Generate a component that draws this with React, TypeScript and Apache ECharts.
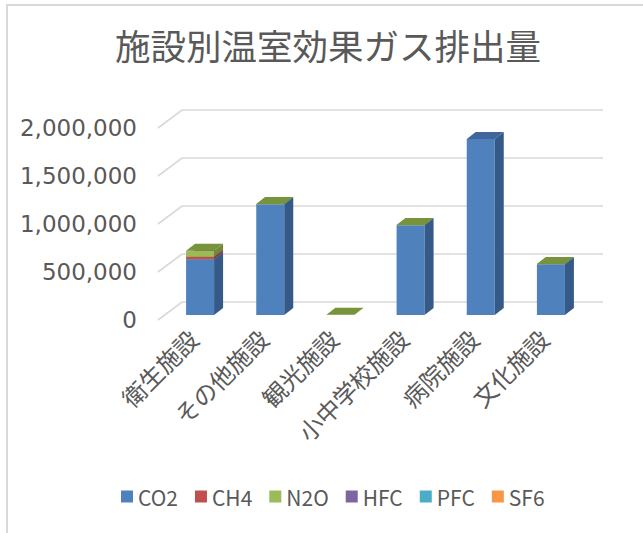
import { useEffect, useRef } from 'react';
import * as echarts from 'echarts';

const categories = ['衛生施設', 'その他施設', '観光施設', '小中学校施設', '病院施設', '文化施設'];
const seriesNames = ['CO2', 'CH4', 'N2O', 'HFC', 'PFC', 'SF6'];
const co2Values = [580000, 1153000, 0, 934000, 1833000, 529000];
const ch4Values = [26000, 0, 0, 0, 0, 0];
const n2oValues = [63000, 3000, 2000, 3000, 0, 3000];
const hfcValues = [0, 0, 0, 0, 0, 0];
const pfcValues = [0, 0, 0, 0, 0, 0];
const sf6Values = [0, 0, 0, 0, 0, 0];
const yTicks = [0, 500000, 1000000, 1500000, 2000000];

const FRONT = ['#4F81BD', '#C0504D', '#9BBB59', '#8064A2', '#4BACC6', '#F79646'];
const SIDE = ['#355A88', '#8E3A38', '#6F8A3E', '#5C4876', '#357E91', '#B56C32'];
const TOP = ['#40669A', '#A34442', '#77933C', '#6A5388', '#3E93A9', '#D17E3A'];

const FONT = '"Noto Sans CJK JP", "Noto Sans", sans-serif';
const NUM_FONT = '"DejaVu Sans", "Noto Sans", sans-serif';
const TEXT = '#595959';

export default function App() {
  const ref = useRef<HTMLDivElement>(null);
  useEffect(() => {
    const chart = echarts.init(ref.current!, null, { renderer: 'svg' });
    const valueLists = [co2Values, ch4Values, n2oValues, hfcValues, pfcValues, sf6Values];
    const bases = valueLists.map((_, s) =>
      categories.map((__, i) => valueLists.slice(0, s).reduce((a, l) => a + l[i], 0))
    );
    const DEPTH_X = 24, DEPTH_Y = -18;
    const FX = 7, FY = -5, SX = 9, SY = -7, BAR_W = 28;

    const gridSeries: any = {
      type: 'custom',
      name: 'grid',
      silent: true,
      data: yTicks.map((v) => [0, v]),
      renderItem: (params: any, api: any) => {
        const cs = params.coordSys;
        const y = api.coord([0, api.value(1)])[1];
        return {
          type: 'polyline',
          shape: {
            points: [
              [cs.x, y],
              [cs.x + DEPTH_X, y + DEPTH_Y],
              [cs.x + cs.width + DEPTH_X, y + DEPTH_Y],
            ],
          },
          style: { stroke: '#D9D9D9', lineWidth: 1.6, fill: null },
        };
      },
    };

    const barSeries: any[] = seriesNames.map((name, s) => ({
      type: 'custom',
      name,
      itemStyle: { color: FRONT[s] },
      data: categories
        .map((_, i) => [i, valueLists[s][i], bases[s][i]])
        .filter((d) => d[1] > 0),
      renderItem: (params: any, api: any) => {
        const i = api.value(0);
        const v = api.value(1);
        const b = api.value(2);
        const cx = api.coord([i, 0])[0];
        const yb = api.coord([i, b])[1] + FY;
        const yt = api.coord([i, b + v])[1] + FY;
        const x0 = cx - BAR_W / 2 + FX;
        const x1 = x0 + BAR_W;
        return {
          type: 'group',
          children: [
            {
              type: 'rect',
              shape: { x: x0, y: yt, width: BAR_W, height: Math.max(yb - yt, 0) },
              style: { fill: FRONT[s] },
            },
            {
              type: 'polygon',
              shape: { points: [[x1, yt], [x1 + SX, yt + SY], [x1 + SX, yb + SY], [x1, yb]] },
              style: { fill: SIDE[s] },
            },
            {
              type: 'polygon',
              shape: { points: [[x0, yt], [x1, yt], [x1 + SX, yt + SY], [x0 + SX, yt + SY]] },
              style: { fill: TOP[s] },
            },
          ],
        };
      },
    }));

    chart.setOption({
      animation: false,
      backgroundColor: '#ffffff',
      title: {
        text: '施設別温室効果ガス排出量',
        left: 115,
        top: 27,
        padding: 0,
        textStyle: { fontFamily: FONT, fontSize: 35.5, fontWeight: 'normal', color: TEXT },
      },
      legend: {
        data: seriesNames,
        left: 116,
        top: 481,
        icon: 'rect',
        itemWidth: 12,
        itemHeight: 12,
        itemGap: 17,
        textStyle: { fontFamily: FONT, fontSize: 21, color: TEXT },
      },
      grid: { left: 158, right: 64, top: 128, bottom: 213, containLabel: false },
      xAxis: {
        type: 'category',
        data: categories,
        axisLine: { show: false },
        axisTick: { show: false },
        axisLabel: { rotate: 45, margin: 14, fontFamily: FONT, fontSize: 24, color: TEXT, interval: 0 },
      },
      yAxis: {
        type: 'value',
        min: 0,
        max: 2000000,
        interval: 500000,
        axisLine: { show: false },
        axisTick: { show: false },
        splitLine: { show: false },
        axisLabel: {
          margin: 21,
          fontFamily: NUM_FONT,
          fontSize: 23,
          color: TEXT,
          formatter: (v: number) => v.toLocaleString('en-US'),
        },
      },
      graphic: [
        { type: 'line', shape: { x1: 6, y1: 5, x2: 643, y2: 5 }, style: { stroke: '#D9D9D9', lineWidth: 2 } },
        { type: 'line', shape: { x1: 7, y1: 4, x2: 7, y2: 533 }, style: { stroke: '#D9D9D9', lineWidth: 2 } },
      ],
      series: [gridSeries, ...barSeries],
    });
    return () => chart.dispose();
  }, []);
  return (
    <div
      ref={ref}
      style={{ position: 'fixed', left: 0, top: 0, width: 643, height: 533, background: '#fff' }}
    />
  );
}
